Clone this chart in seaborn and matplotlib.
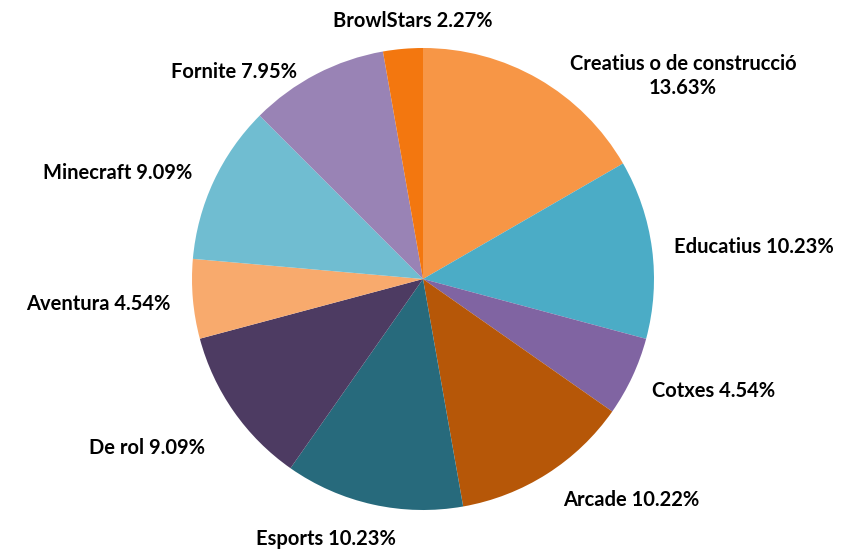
import matplotlib
matplotlib.use("Agg")
import matplotlib.pyplot as plt
import seaborn as sns
import numpy as np

categories = ["Creatius o de construcció", "Educatius", "Cotxes", "Arcade", "Esports",
              "De rol", "Aventura", "Minecraft", "Fornite", "BrowlStars"]
values = [13.63, 10.23, 4.54, 10.22, 10.23, 9.09, 4.54, 9.09, 7.95, 2.27]
label_texts = ["Creatius o de construcció\n13.63%", "Educatius 10.23%", "Cotxes 4.54%",
               "Arcade 10.22%", "Esports 10.23%", "De rol 9.09%", "Aventura 4.54%",
               "Minecraft 9.09%", "Fornite 7.95%", "BrowlStars 2.27%"]
colors = ["#F79646", "#4BACC6", "#8064A2", "#B65708", "#276A7C",
          "#4D3B62", "#F8AA6D", "#70BDD1", "#9983B5", "#F3770F"]

# layout nudges for labels (pixels: right, down) to mimic the original placement
label_nudges = [(22, 13), (4, 1), (3, 7), (6, 11), (-43, 16),
                (-14, 26), (-4, 3), (-5, -1), (-11, 14), (11, -9)]

sns.set_theme(style="white")
plt.rcParams['font.family'] = ['Lato', 'DejaVu Sans']

W, H = 850, 551
fig = plt.figure(figsize=(W / 100, H / 100), dpi=100)
cx, cy, r = 423, 279, 231
ax = fig.add_axes([(cx - r) / W, (H - cy - r) / H, 2 * r / W, 2 * r / H])

palette = sns.color_palette(colors)
wedges, texts = ax.pie(values, colors=palette, startangle=90, counterclock=False,
                       labels=label_texts, labeldistance=1.08,
                       wedgeprops=dict(linewidth=0),
                       textprops=dict(fontsize=14.5, fontweight='bold', color='black'))

for w, t, (dx, dy) in zip(wedges, texts, label_nudges):
    ang = np.deg2rad((w.theta1 + w.theta2) / 2)
    if abs(np.cos(ang)) < 0.3:
        t.set_ha('center')
    t.set_multialignment('center')
    x, y = t.get_position()
    t.set_position((x + dx / r, y - dy / r))

ax.set_xlim(-1, 1)
ax.set_ylim(-1, 1)
ax.set_aspect('equal')
ax.axis('off')

fig.savefig("out.png", dpi=100, facecolor='white')
